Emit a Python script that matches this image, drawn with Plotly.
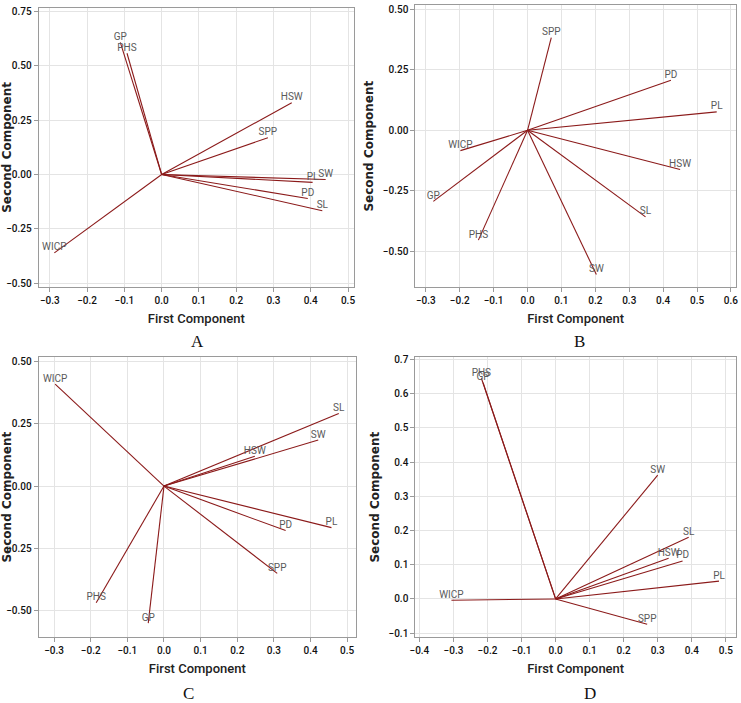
import plotly.graph_objects as go

# ---- data ----
vars_A = ["GP", "PHS", "HSW", "SPP", "SW", "PL", "PD", "SL", "WICP"]
pc1_A = [-0.111, -0.093, 0.349, 0.285, 0.440, 0.405, 0.392, 0.431, -0.288]
pc2_A = [0.607, 0.557, 0.330, 0.169, -0.023, -0.036, -0.110, -0.166, -0.360]

vars_B = ["SPP", "PD", "PL", "WICP", "HSW", "GP", "PHS", "SW", "SL"]
pc1_B = [0.070, 0.423, 0.558, -0.198, 0.450, -0.278, -0.145, 0.203, 0.348]
pc2_B = [0.383, 0.207, 0.076, -0.084, -0.162, -0.294, -0.454, -0.596, -0.358]

vars_C = ["WICP", "SL", "SW", "HSW", "PL", "PD", "SPP", "PHS", "GP"]
pc1_C = [-0.297, 0.477, 0.421, 0.248, 0.457, 0.332, 0.309, -0.185, -0.043]
pc2_C = [0.410, 0.292, 0.185, 0.120, -0.167, -0.179, -0.351, -0.469, -0.551]

vars_D = ["PHS", "GP", "SW", "SL", "HSW", "PD", "PL", "WICP", "SPP"]
pc1_D = [-0.218, -0.213, 0.300, 0.391, 0.332, 0.373, 0.480, -0.306, 0.269]
pc2_D = [0.645, 0.632, 0.362, 0.180, 0.119, 0.111, 0.052, -0.004, -0.074]

panels = [
    ("A", vars_A, pc1_A, pc2_A),
    ("B", vars_B, pc1_B, pc2_B),
    ("C", vars_C, pc1_C, pc2_C),
    ("D", vars_D, pc1_D, pc2_D),
]

x_ticks = {
    "A": [-0.3, -0.2, -0.1, 0.0, 0.1, 0.2, 0.3, 0.4, 0.5],
    "B": [-0.3, -0.2, -0.1, 0.0, 0.1, 0.2, 0.3, 0.4, 0.5, 0.6],
    "C": [-0.3, -0.2, -0.1, 0.0, 0.1, 0.2, 0.3, 0.4, 0.5],
    "D": [-0.4, -0.3, -0.2, -0.1, 0.0, 0.1, 0.2, 0.3, 0.4, 0.5],
}
y_ticks = {
    "A": [-0.50, -0.25, 0.00, 0.25, 0.50, 0.75],
    "B": [-0.50, -0.25, 0.00, 0.25, 0.50],
    "C": [-0.50, -0.25, 0.00, 0.25, 0.50],
    "D": [-0.1, 0.0, 0.1, 0.2, 0.3, 0.4, 0.5, 0.6, 0.7],
}

# ---- layout / style ----
x_ranges = {"A": [-0.33, 0.516], "B": [-0.331, 0.615], "C": [-0.342, 0.524], "D": [-0.412, 0.530]}
y_ranges = {"A": [-0.518, 0.767], "B": [-0.649, 0.518], "C": [-0.608, 0.519], "D": [-0.112, 0.707]}
x_domains = {"A": [0.0522, 0.4777], "B": [0.5605, 0.9933], "C": [0.0522, 0.4804], "D": [0.5605, 0.9933]}
y_domains = {"A": [0.5913, 0.9893], "B": [0.5913, 0.9929], "C": [0.0935, 0.4922], "D": [0.0935, 0.4922]}
y_fmt = {"A": ".2f", "B": ".2f", "C": ".2f", "D": ".1f"}
letter_pos = {"A": (0.2668, 0.514), "B": (0.7827, 0.514), "C": (0.255, 0.014), "D": (0.796, 0.014)}

LINE = "#8b1a1a"
LABEL = "#5a5a5a"
TICKFONT = dict(family="Roboto, sans-serif", size=10, color="#111", weight=500)
LABELFONT = dict(family="Roboto, sans-serif", size=10, color=LABEL)

fig = go.Figure()
layout = dict(
    width=741, height=703,
    margin=dict(l=0, r=0, t=0, b=0, autoexpand=False),
    paper_bgcolor="white", plot_bgcolor="white",
    showlegend=False,
    annotations=[],
)

for i, (name, labels, xs, ys) in enumerate(panels):
    ax = "" if i == 0 else str(i + 1)
    xref, yref = "x" + ax, "y" + ax
    lx, ly = [], []
    for xv, yv in zip(xs, ys):
        lx += [0, xv, None]
        ly += [0, yv, None]
    fig.add_trace(go.Scatter(x=lx, y=ly, mode="lines", xaxis=xref, yaxis=yref,
                             line=dict(color=LINE, width=1.1), hoverinfo="skip"))
    fig.add_trace(go.Scatter(x=xs, y=ys, mode="text", text=labels, textposition="top center",
                             xaxis=xref, yaxis=yref, textfont=LABELFONT, cliponaxis=False,
                             hoverinfo="skip"))
    layout["xaxis" + ax] = dict(
        domain=x_domains[name], range=x_ranges[name], anchor=yref, automargin=False,
        tickvals=x_ticks[name], tickformat=".1f", tickfont=TICKFONT,
        showgrid=True, gridcolor="#e4e4e4", zeroline=False,
        showline=True, linecolor="#9a9a9a", mirror=True, linewidth=1,
        ticks="outside", ticklen=4, tickcolor="#9a9a9a",
        title=dict(text="First Component", standoff=8,
                   font=dict(family="Roboto, sans-serif", size=13, color="#222", weight=500)),
    )
    layout["yaxis" + ax] = dict(
        domain=y_domains[name], range=y_ranges[name], anchor=xref, automargin=False,
        tickvals=y_ticks[name], tickformat=y_fmt[name], tickfont=TICKFONT,
        showgrid=True, gridcolor="#e4e4e4", zeroline=False,
        showline=True, linecolor="#9a9a9a", mirror=True, linewidth=1,
        ticks="outside", ticklen=4, tickcolor="#9a9a9a",
        title=dict(text="Second Component", standoff=6,
                   font=dict(family="DejaVu Sans, sans-serif", size=12, color="#222", weight="bold")),
    )
    px, py = letter_pos[name]
    layout["annotations"].append(dict(
        text=name, x=px, y=py, xref="paper", yref="paper", showarrow=False,
        xanchor="center", yanchor="middle",
        font=dict(family="Liberation Serif, serif", size=17, color="#111")))

fig.update_layout(**layout)
fig.write_html("out.html", config={"displayModeBar": False},
               post_script="document.body.style.margin='0';document.body.style.padding='0';")
